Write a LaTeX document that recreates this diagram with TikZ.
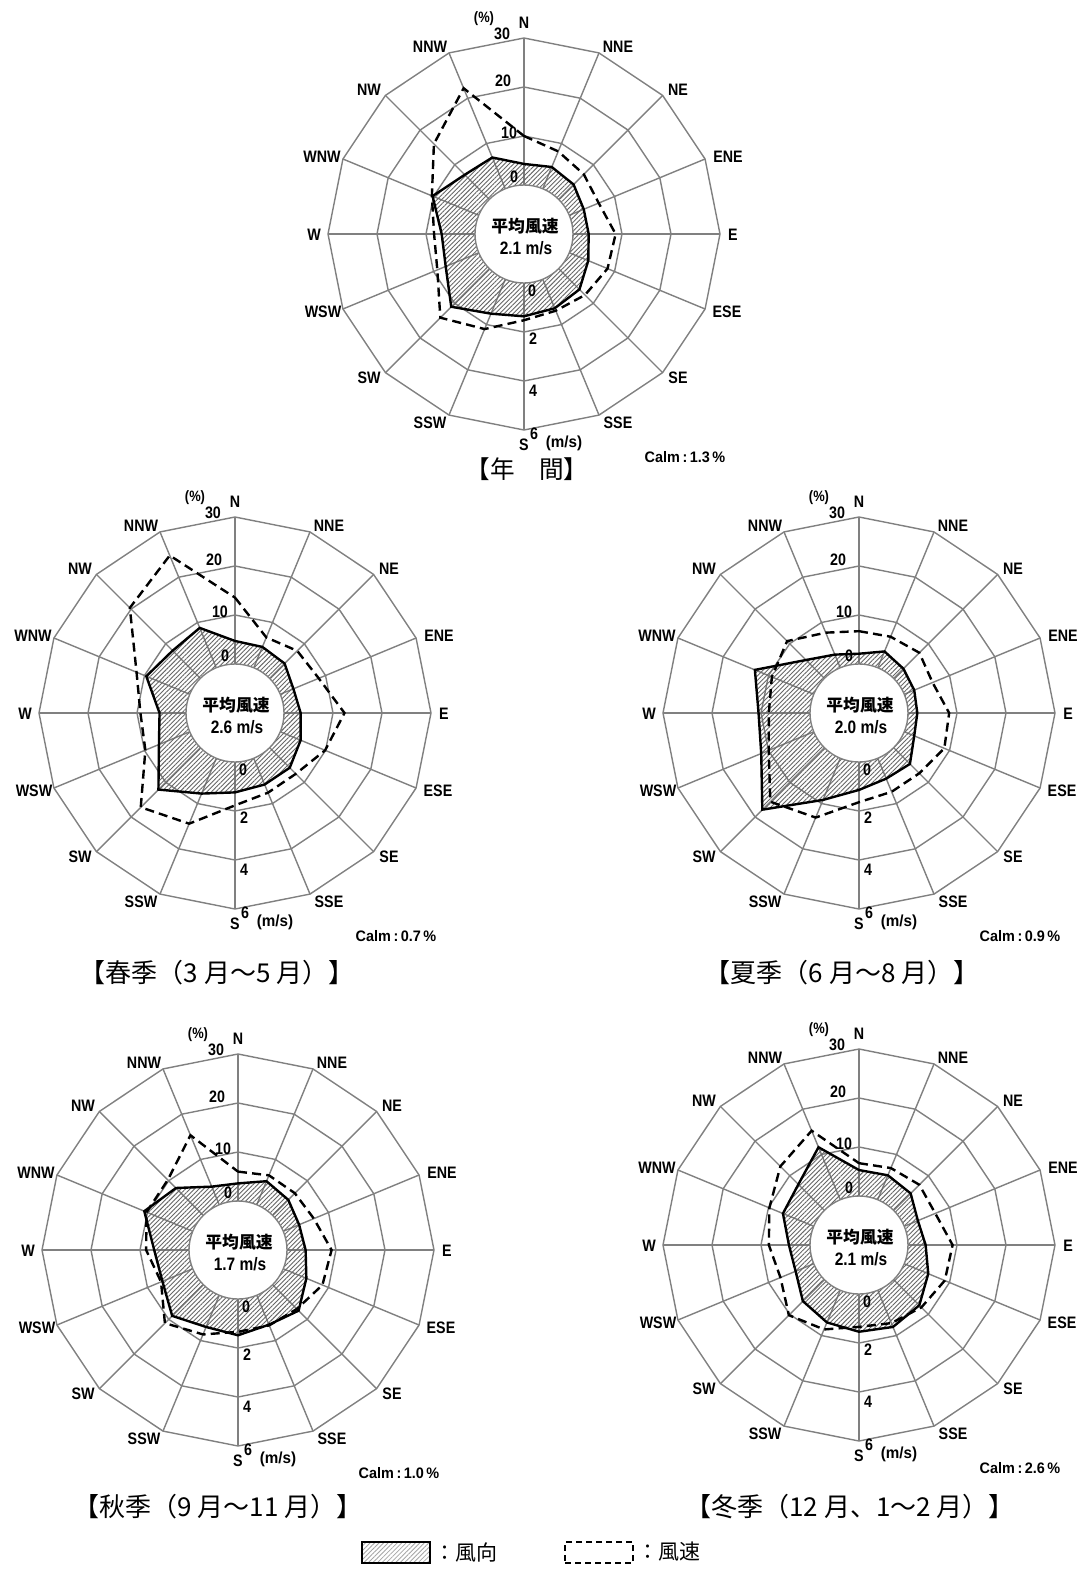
\documentclass[tikz,border=0pt]{standalone}
\usepackage{fontspec}
\usetikzlibrary{patterns.meta}
\newfontfamily\labfont{Liberation Sans}[FakeStretch=0.86]
\newfontfamily\calmfont{Liberation Sans}[FakeStretch=0.95]
\newfontfamily\jpfont{Noto Sans CJK JP}
\tikzset{
  gridline/.style={draw=black!50, line width=0.7pt},
  axisline/.style={draw=black!50, line width=0.95pt},
  freqline/.style={line width=1.2pt, line join=miter},
  speedline/.style={line width=1.2pt, dash pattern=on 4.5pt off 2.6pt},
  hatch/.style={pattern={Lines[angle=45,distance=1.6pt,line width=0.45pt]}, pattern color=black!60},
  dirlab/.style={font=\labfont\bfseries\fontsize{8.3}{9}\selectfont, inner sep=0pt},
  numlab/.style={font=\labfont\bfseries\fontsize{8.3}{9}\selectfont, inner sep=0pt},
  smalllab/.style={font=\labfont\bfseries\fontsize{7.5}{8}\selectfont, inner sep=0pt},
  calmlab/.style={font=\calmfont\bfseries\fontsize{7.6}{8}\selectfont, inner sep=0pt},
  centerjp/.style={font=\jpfont\bfseries\fontsize{8.4}{9}\selectfont, inner sep=0pt},
  centerval/.style={font=\labfont\bfseries\fontsize{9}{10}\selectfont, inner sep=0pt},
  titlelab/.style={font=\jpfont\fontsize{13}{14}\selectfont, inner sep=0pt},
  legtext/.style={font=\jpfont\fontsize{10.5}{11}\selectfont, inner sep=0pt},
  legbox/.style={draw, line width=1.1pt, minimum width=34pt, minimum height=10.5pt, inner sep=0pt},
}
% #1 cx, #2 cy, #3 frequency list (%), #4 speed list (m/s), #5 mean speed, #6 calm
\newcommand{\windrose}[6]{%
\begin{scope}[shift={(#1,#2)}]
  \foreach \r in {98,147,196}{
    \draw[gridline] (-90:\r) \foreach \k in {1,...,15}{ -- ({-90+22.5*\k}:\r)} -- cycle;
  }
  \foreach \k in {1,...,7,9,10,...,15}{
    \draw[gridline] ({-90+22.5*\k}:49) -- ({-90+22.5*\k}:196);
  }
  \draw[axisline] (0,-49) -- (0,-196);
  \draw[axisline] (0,49) -- (0,196);
  \foreach \v [count=\i from 0] in {#3}{
    \coordinate (F\i) at ({-90+22.5*\i}:{49+4.9*\v});
  }
  \foreach \v [count=\i from 0] in {#4}{
    \coordinate (V\i) at ({-90+22.5*\i}:{49+24.5*\v});
  }
  \fill[hatch] (F0) -- (F1) -- (F2) -- (F3) -- (F4) -- (F5) -- (F6) -- (F7) -- (F8)
     -- (F9) -- (F10) -- (F11) -- (F12) -- (F13) -- (F14) -- (F15) -- cycle;
  \filldraw[fill=white, draw=black!50, line width=0.7pt] (0,0) circle[radius=49];
  \draw[freqline] (F0) -- (F1) -- (F2) -- (F3) -- (F4) -- (F5) -- (F6) -- (F7) -- (F8)
     -- (F9) -- (F10) -- (F11) -- (F12) -- (F13) -- (F14) -- (F15) -- cycle;
  \draw[speedline] (V0) -- (V1) -- (V2) -- (V3) -- (V4) -- (V5) -- (V6) -- (V7) -- (V8)
     -- (V9) -- (V10) -- (V11) -- (V12) -- (V13) -- (V14) -- (V15) -- cycle;
  \foreach \nm/\dx/\dy in {N/0/-211,NNE/94/-187,NE/154/-144,ENE/204/-77,E/209/1,
      ESE/203/78,SE/154/144,SSE/94/189,S/0/211,SSW/-94/189,SW/-155/144,WSW/-201/78,
      W/-210/1,WNW/-202/-77,NW/-155/-144,NNW/-94/-187}{
    \node[dirlab] (d\nm) at (\dx,\dy) {\nm};
  }
  \node[numlab] (p0) at (-10,-57) {0};
  \node[numlab] (p10) at (-15,-101) {10};
  \node[numlab] (p20) at (-21,-153) {20};
  \node[numlab] (p30) at (-22,-200) {30};
  \node[smalllab] (pct) at (-40,-215) {(\%)};
  \node[numlab] (s0) at (8,57) {0};
  \node[numlab] (s2) at (9,105) {2};
  \node[numlab] (s4) at (9,157) {4};
  \node[numlab] (s6) at (10,200) {6};
  \node[smalllab, font=\calmfont\bfseries\fontsize{8}{9}\selectfont] (ms) at (40,209) {(m/s)};
  \node[centerjp] (avgt) at (1,-8) {平均風速};
  \node[centerval] (avgv) at (2,14) {#5 m/s};
  \node[calmlab] (calm) at (161,223) {Calm\,:\,#6\,\%};
\end{scope}}

\begin{document}
\begin{tikzpicture}[x=0.5pt, y=-0.5pt]
\useasboundingbox (0,0) rectangle (1083,1569);
\fill[white] (0,0) rectangle (1083,1569);

\windrose{524}{234}{4.3,4.8,4.3,3.2,3.2,4.2,6.0,6.4,6.8,7.6,11.0,7.3,6.8,10.2,7.1,6.9}%
  {2.0,1.65,1.45,1.3,1.74,1.69,1.52,1.39,1.52,2.2,2.83,1.83,1.67,2.07,3.2,4.44}{2.1}{1.3}
\windrose{235}{713}{4.7,4.6,4.3,2.9,3.4,4.5,5.8,5.8,6.2,7.8,12.1,6.8,5.4,9.6,8.0,8.8}%
  {2.71,1.34,1.59,1.7,2.47,1.98,1.51,1.52,1.77,2.89,3.44,1.96,1.86,2.35,4.07,4.96}{2.6}{0.7}
\windrose{859}{713}{2.1,3.6,2.8,2.2,1.9,2.2,4.7,4.5,5.7,9.2,17.9,11.6,10.5,13.0,5.3,2.9}%
  {1.34,1.37,1.48,1.25,1.68,1.77,1.48,1.48,1.64,2.62,3.12,1.99,1.68,1.85,2.15,1.55}{2.0}{0.9}
\windrose{238}{1250}{3.6,5.2,4.5,3.5,3.8,5.1,7.5,6.5,7.4,7.0,9.0,6.7,7.1,10.7,7.9,4.0}%
  {1.2,1.3,1.28,1.35,1.82,1.73,1.4,1.33,1.34,1.73,2.22,1.4,1.75,2.04,2.05,3.07}{1.7}{1.0}
\windrose{859}{1245}{5.3,5.4,4.9,3.0,3.6,5.3,7.4,8.1,7.7,7.1,6.2,4.0,4.3,6.8,7.5,11.6}%
  {1.34,1.4,1.48,1.37,1.82,1.79,1.6,1.45,1.34,1.73,2.05,1.47,1.68,1.96,2.54,3.05}{2.1}{2.6}

\node[titlelab, font=\jpfont\fontsize{12.3}{13}\selectfont] (t0) at (527,469) {【年　間】};
\node[titlelab] (t1) at (217,973) {【春季（3 月～5 月）】};
\node[titlelab] (t2) at (842,973) {【夏季（6 月～8 月）】};
\node[titlelab] (t3) at (218,1507) {【秋季（9 月～11 月）】};
\node[titlelab] (t4) at (850,1507) {【冬季（12 月、1～2 月）】};

\node[legbox, pattern={Lines[angle=45,distance=1.6pt,line width=0.4pt]}, pattern color=black!35] (leg1) at (396,1552.5) {};
\node[legtext, anchor=west] (legt1) at (434,1552) {：風向};
\node[legbox, dash pattern=on 3pt off 2pt] (leg2) at (599,1552.5) {};
\node[legtext, anchor=west] (legt2) at (637,1552) {：風速};
\end{tikzpicture}
\end{document}
